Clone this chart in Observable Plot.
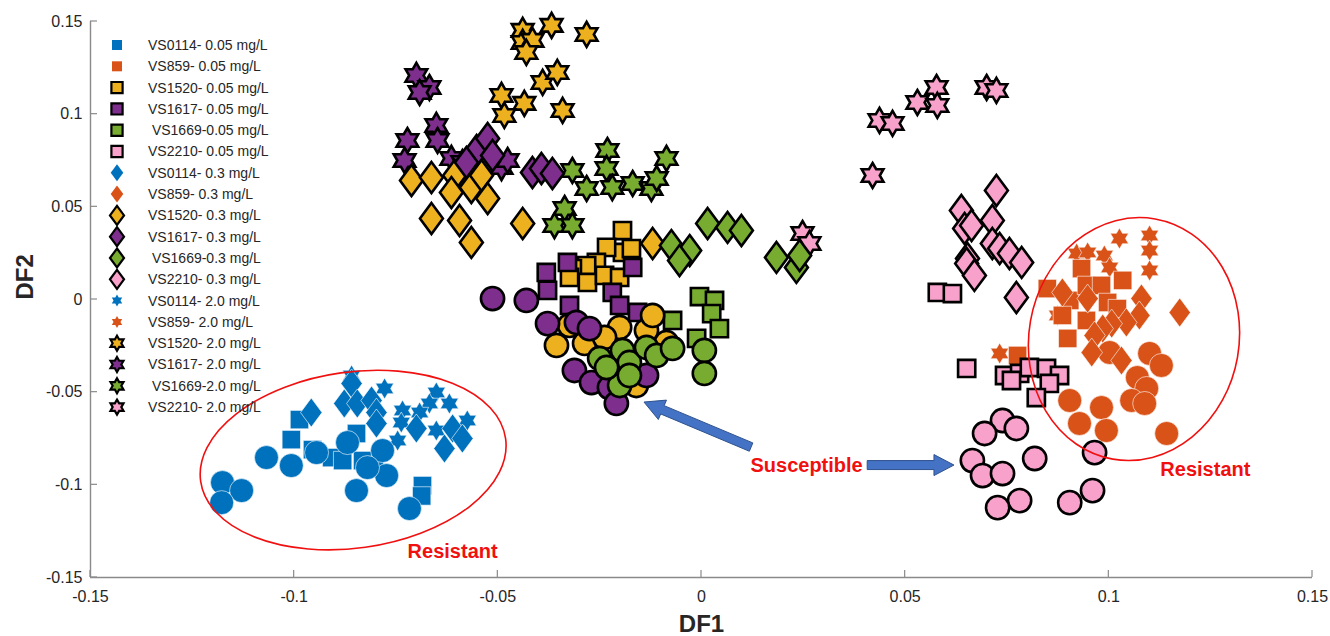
<!DOCTYPE html>
<html><head><meta charset="utf-8">
<script src="https://cdn.jsdelivr.net/npm/d3@7"></script>
<script src="https://cdn.jsdelivr.net/npm/@observablehq/plot@0.6"></script>
<style>
body{margin:0;background:#fff;}
#chart{position:relative;width:1330px;height:636px;}
</style></head><body><div id="chart"></div>
<script>
// ---------- categories / labels ----------
const strains = ["VS0114","VS859","VS1520","VS1617","VS1669","VS2210"];
const strainColors = ["#0072BD","#D95319","#EDB120","#7E2F8E","#77AC30","#F7A1CB"];
const edged = [false,false,true,true,true,true];
const legendLabels = [
  "VS0114- 0.05 mg/L","VS859- 0.05 mg/L","VS1520- 0.05 mg/L","VS1617- 0.05 mg/L"," VS1669-0.05 mg/L","VS2210- 0.05 mg/L",
  "VS0114- 0.3 mg/L","VS859- 0.3 mg/L","VS1520- 0.3 mg/L","VS1617- 0.3 mg/L"," VS1669-0.3 mg/L","VS2210- 0.3 mg/L",
  "VS0114- 2.0 mg/L","VS859- 2.0 mg/L","VS1520- 2.0 mg/L","VS1617- 2.0 mg/L"," VS1669-2.0 mg/L","VS2210- 2.0 mg/L"
];
const xTicks = [-0.15,-0.1,-0.05,0,0.05,0.1,0.15];
const xTickLabels = ["-0.15","-0.1","-0.05","0","0.05","0.1","0.15"];
const yTicks = [-0.15,-0.1,-0.05,0,0.05,0.1,0.15];
const yTickLabels = ["-0.15","-0.1","-0.05","0","0.05","0.1","0.15"];

// ---------- data: [DF1, DF2] ----------
const vs0114_circle = [[-0.1176,-0.0988],[-0.1129,-0.1031],[-0.1178,-0.1096],[-0.1068,-0.0853],[-0.1007,-0.0896],[-0.0945,-0.0826],[-0.0869,-0.0772],[-0.0847,-0.1031],[-0.0783,-0.0815],[-0.0773,-0.0950],[-0.0820,-0.0907],[-0.0717,-0.1128]];
const vs0114_square = [[-0.0987,-0.0648],[-0.1007,-0.0756],[-0.0955,-0.0810],[-0.0908,-0.0853],[-0.0881,-0.0869],[-0.0847,-0.0723],[-0.0832,-0.0869],[-0.0803,-0.0896],[-0.0685,-0.1004],[-0.0687,-0.1060]];
const vs0114_diamond = [[-0.0958,-0.0610],[-0.0859,-0.0453],[-0.0877,-0.0561],[-0.0845,-0.0561],[-0.0810,-0.0545],[-0.0798,-0.0610],[-0.0798,-0.0669],[-0.0700,-0.0696],[-0.0611,-0.0696],[-0.0631,-0.0804],[-0.0587,-0.0750]];
const vs0114_star = [[-0.0859,-0.0410],[-0.0778,-0.0480],[-0.0651,-0.0502],[-0.0668,-0.0561],[-0.0619,-0.0561],[-0.0734,-0.0599],[-0.0692,-0.0610],[-0.0575,-0.0653],[-0.0737,-0.0664],[-0.0651,-0.0707],[-0.0746,-0.0761]];

const vs859_square = [[0.0933,0.0167],[0.0849,0.0059],[0.0904,-0.0005],[0.0945,0.0076],[0.0982,0.0076],[0.1034,0.0103],[0.0997,-0.0016],[0.1021,-0.0049],[0.0886,-0.0086],[0.0945,-0.0113],[0.0899,-0.0210],[0.0776,-0.0302]];
const vs859_diamond = [[0.0886,0.0038],[0.0948,0.0005],[0.1080,0.0005],[0.1174,-0.0070],[0.1075,-0.0086],[0.1043,-0.0124],[0.1007,-0.0130],[0.0985,-0.0157],[0.0965,-0.0194],[0.0958,-0.0286],[0.1031,-0.0329]];
const vs859_star = [[0.1026,0.0329],[0.1100,0.0345],[0.1100,0.0264],[0.1100,0.0157],[0.0921,0.0248],[0.0948,0.0254],[0.0989,0.0237],[0.1002,0.0173],[0.0874,-0.0086],[0.0732,-0.0291]];
const vs859_circle = [[0.1002,-0.0286],[0.1100,-0.0291],[0.1129,-0.0356],[0.1070,-0.0421],[0.1093,-0.0480],[0.1056,-0.0545],[0.1088,-0.0561],[0.0904,-0.0545],[0.0982,-0.0583],[0.0928,-0.0669],[0.0994,-0.0707],[0.1142,-0.0723]];

const vs1520_square = [[-0.0194,0.0372],[-0.0194,0.0254],[-0.0233,0.0281],[-0.0172,0.0275],[-0.0258,0.0200],[-0.0282,0.0183],[-0.0317,0.0167],[-0.0324,0.0119],[-0.0280,0.0092],[-0.0238,0.0130],[-0.0201,0.0119]];
const vs1520_diamond = [[-0.0712,0.0642],[-0.0663,0.0658],[-0.0606,0.0669],[-0.0614,0.0577],[-0.0565,0.0604],[-0.0540,0.0669],[-0.0525,0.0545],[-0.0663,0.0437],[-0.0594,0.0426],[-0.0565,0.0308],[-0.0439,0.0410],[-0.0120,0.0302]];
const vs1520_star = [[-0.0439,0.1452],[-0.0368,0.1479],[-0.0282,0.1430],[-0.0439,0.1387],[-0.0415,0.1398],[-0.0430,0.1333],[-0.0390,0.1171],[-0.0354,0.1225],[-0.0491,0.1101],[-0.0435,0.1058],[-0.0484,0.0993],[-0.0341,0.1020]];
const vs1520_circle = [[-0.0356,-0.0248],[-0.0287,-0.0237],[-0.0324,-0.0140],[-0.0201,-0.0151],[-0.0135,-0.0167],[-0.0238,-0.0205],[-0.0160,-0.0464],[-0.0120,-0.0086],[-0.0086,-0.0232]];

const vs1617_square = [[-0.0381,0.0146],[-0.0378,0.0049],[-0.0329,0.0200],[-0.0324,-0.0032],[-0.0219,0.0038],[-0.0201,-0.0032],[-0.0169,0.0173],[-0.0157,-0.0070]];
const vs1617_diamond = [[-0.0552,0.0804],[-0.0525,0.0869],[-0.0513,0.0777],[-0.0577,0.0739],[-0.0415,0.0685],[-0.0393,0.0707],[-0.0366,0.0680]];
const vs1617_star = [[-0.0700,0.1209],[-0.0668,0.1144],[-0.0692,0.1117],[-0.0722,0.0858],[-0.0651,0.0939],[-0.0648,0.0858],[-0.0729,0.0750],[-0.0614,0.0761],[-0.0587,0.0739],[-0.0491,0.0712],[-0.0476,0.0750]];
const vs1617_circle = [[-0.0513,0.0005],[-0.0430,-0.0005],[-0.0378,-0.0130],[-0.0307,-0.0124],[-0.0275,-0.0157],[-0.0312,-0.0383],[-0.0270,-0.0448],[-0.0226,-0.0475],[-0.0209,-0.0561],[-0.0135,-0.0410]];

const vs1669_square = [[-0.0005,0.0016],[0.0032,-0.0005],[0.0025,-0.0076],[-0.0071,-0.0113],[0.0044,-0.0157],[-0.0012,-0.0210]];
const vs1669_diamond = [[-0.0074,0.0291],[-0.0029,0.0264],[-0.0054,0.0210],[0.0015,0.0410],[0.0064,0.0389],[0.0098,0.0372],[0.0184,0.0227],[0.0233,0.0173],[0.0241,0.0237]];
const vs1669_star = [[-0.0317,0.0696],[-0.0231,0.0804],[-0.0233,0.0707],[-0.0282,0.0599],[-0.0219,0.0604],[-0.0169,0.0626],[-0.0123,0.0599],[-0.0110,0.0653],[-0.0086,0.0761],[-0.0336,0.0491],[-0.0361,0.0399],[-0.0317,0.0399]];
const vs1669_circle = [[-0.0250,-0.0318],[-0.0194,-0.0275],[-0.0177,-0.0340],[-0.0201,-0.0464],[-0.0135,-0.0259],[-0.0110,-0.0302],[-0.0071,-0.0264],[0.0007,-0.0275],[0.0007,-0.0399],[-0.0177,-0.0410],[-0.0233,-0.0367]];

const vs2210_square = [[0.0579,0.0038],[0.0616,0.0032],[0.0651,-0.0372],[0.0744,-0.0410],[0.0781,-0.0399],[0.0805,-0.0367],[0.0847,-0.0372],[0.0879,-0.0410],[0.0854,-0.0453],[0.0822,-0.0529],[0.0761,-0.0437]];
const vs2210_diamond = [[0.0724,0.0588],[0.0638,0.0480],[0.0714,0.0426],[0.0646,0.0383],[0.0663,0.0399],[0.0714,0.0302],[0.0732,0.0275],[0.0756,0.0248],[0.0653,0.0221],[0.0651,0.0194],[0.0670,0.0130],[0.0786,0.0200],[0.0773,0.0011]];
const vs2210_star = [[0.0437,0.0966],[0.0469,0.0950],[0.0530,0.1063],[0.0577,0.1144],[0.0579,0.1047],[0.0700,0.1144],[0.0724,0.1128],[0.0420,0.0669],[0.0248,0.0356],[0.0265,0.0302]];
const vs2210_circle = [[0.0739,-0.0653],[0.0773,-0.0696],[0.0695,-0.0723],[0.0665,-0.0869],[0.0690,-0.0950],[0.0739,-0.0939],[0.0818,-0.0858],[0.0781,-0.1085],[0.0727,-0.1123],[0.0904,-0.1096],[0.0960,-0.1031],[0.0965,-0.0826]];

// ---------- annotations ----------
const ellipses = [
  {cx:-0.0854, cy:-0.0869, rx:0.0378, ry:0.0475, angle:-8},
  {cx:0.1063, cy:-0.0216, rx:0.0258, ry:0.0658, angle:10}
];
const arrows = [
  {x1:0.0123, y1:-0.0799, x2:-0.0140, y2:-0.0556},
  {x1:0.0408, y1:-0.0896, x2:0.0621, y2:-0.0896}
];
const notes = [
  {x:-0.0611, y:-0.1360, text:"Resistant"},
  {x:0.0258, y:-0.0896, text:"Susceptible"},
  {x:0.1237, y:-0.0917, text:"Resistant"}
];

// ---------- symbols ----------
const FONT = "Liberation Sans, Arial, Helvetica, sans-serif";
const symSquare = {draw(ctx, size){const r=Math.sqrt(size/Math.PI); ctx.moveTo(-r,-r); ctx.lineTo(r,-r); ctx.lineTo(r,r); ctx.lineTo(-r,r); ctx.closePath();}};
const symDiamond = {draw(ctx, size){const r=Math.sqrt(size/Math.PI); const w=r*0.74; ctx.moveTo(0,-r); ctx.lineTo(w,0); ctx.lineTo(0,r); ctx.lineTo(-w,0); ctx.closePath();}};
const symHex = {draw(ctx, size){const r=Math.sqrt(size/Math.PI); const ri=r/Math.sqrt(3);
  for(let i=0;i<12;i++){const a=-Math.PI/2+i*Math.PI/6; const rr=(i%2)?ri:r; const px=rr*Math.cos(a), py=rr*Math.sin(a); if(i) ctx.lineTo(px,py); else ctx.moveTo(px,py);} ctx.closePath();}};

const shapeSpec = {
  square:  {sym: symSquare, rEdge: 8.6, rPlain: 9.2},
  diamond: {sym: symDiamond, rEdge: 15.5, rPlain: 14.5},
  star:    {sym: symHex, rEdge: 12.5, rPlain: 10.5},
  circle:  {sym: "circle", rEdge: 11.6, rPlain: 12}
};
function dots(data, shape, si){
  const sp = shapeSpec[shape];
  return Plot.dot(data, {
    x: d => d[0], y: d => d[1], symbol: sp.sym,
    r: edged[si] ? sp.rEdge : sp.rPlain,
    fill: strainColors[si],
    stroke: edged[si] ? "#000" : "#fff",
    strokeWidth: edged[si] ? 2.6 : 0.7,
    strokeOpacity: edged[si] ? 1 : 0.85
  });
}
const series = {
  star:    [vs0114_star, vs859_star, vs1520_star, vs1617_star, vs1669_star, vs2210_star],
  square:  [vs0114_square, vs859_square, vs1520_square, vs1617_square, vs1669_square, vs2210_square],
  circle:  [vs0114_circle, vs859_circle, vs1520_circle, vs1617_circle, vs1669_circle, vs2210_circle],
  diamond: [vs0114_diamond, vs859_diamond, vs1520_diamond, vs1617_diamond, vs1669_diamond, vs2210_diamond]
};
const dotMarks = [];
for (const shape of ["star","square","circle","diamond"]) series[shape].forEach((d,i)=>dotMarks.push(dots(d, shape, i)));

const AXIS = "#8a8a8a";

function annotate(index, scales){
  const g = d3.create("svg:g");
  for (const e of ellipses){
    const cx = scales.x(e.cx), cy = scales.y(e.cy);
    const rx = scales.x(e.cx + e.rx) - cx, ry = cy - scales.y(e.cy + e.ry);
    g.append("ellipse").attr("cx",cx).attr("cy",cy).attr("rx",rx).attr("ry",ry)
      .attr("transform",`rotate(${e.angle} ${cx} ${cy})`)
      .attr("fill","none").attr("stroke","#F01010").attr("stroke-width",1.6);
  }
  for (const a of arrows){
    const x1=scales.x(a.x1), y1=scales.y(a.y1), x2=scales.x(a.x2), y2=scales.y(a.y2);
    const L=Math.hypot(x2-x1,y2-y1), ux=(x2-x1)/L, uy=(y2-y1)/L, nx=-uy, ny=ux;
    const w=4.5, hw=10.5, hl=20;
    const bx=x2-ux*hl, by=y2-uy*hl;
    const pts=[[x1+nx*w,y1+ny*w],[bx+nx*w,by+ny*w],[bx+nx*hw,by+ny*hw],[x2,y2],[bx-nx*hw,by-ny*hw],[bx-nx*w,by-ny*w],[x1-nx*w,y1-ny*w]];
    g.append("polygon").attr("points",pts.map(p=>p.join(",")).join(" "))
      .attr("fill","#4472C4").attr("stroke","#2F528F").attr("stroke-width",1);
  }
  return g.node();
}

// inward tick marks on the left and bottom axes
function axisTicks(index, scales){
  const g = d3.create("svg:g").attr("stroke", AXIS).attr("stroke-width", 1.2);
  const yb = scales.y(-0.15), xl = scales.x(-0.15);
  for (const t of xTicks){ const px = scales.x(t); g.append("line").attr("x1",px).attr("x2",px).attr("y1",yb).attr("y2",yb-7); }
  for (const t of yTicks){ const py = scales.y(t); g.append("line").attr("x1",xl).attr("x2",xl+7).attr("y1",py).attr("y2",py); }
  return g.node();
}

const svg = Plot.plot({
  width: 1330, height: 636,
  marginLeft: 90, marginRight: 18, marginTop: 21, marginBottom: 59,
  style: {fontFamily: FONT, background: "#fff", overflow: "visible"},
  x: {domain: [-0.15, 0.15]},
  y: {domain: [-0.15, 0.15]},
  marks: [
    ...dotMarks,
    annotate,
    Plot.text(notes, {x:"x", y:"y", text:"text", fill:"#F01010", fontWeight:"bold", fontSize:20}),
    Plot.ruleX([-0.15], {stroke: AXIS, strokeWidth: 1.4}),
    Plot.ruleY([-0.15], {stroke: AXIS, strokeWidth: 1.4}),
    axisTicks,
    Plot.axisX(xTicks, {tickSize: 0, tickPadding: 13, fontSize: 16, fill: "#262626", label: null, tickFormat: d => xTickLabels[xTicks.indexOf(d)]}),
    Plot.axisY(yTicks, {tickSize: 0, tickPadding: 8, fontSize: 16, fill: "#262626", label: null, tickFormat: d => yTickLabels[yTicks.indexOf(d)]}),
    Plot.text(["DF1"], {frameAnchor: "bottom", dy: 54, fontSize: 24, fontWeight: "bold", fill: "#262626"}),
    Plot.text(["DF2"], {frameAnchor: "left", dx: -65, rotate: -90, fontSize: 24, fontWeight: "bold", fill: "#262626"})
  ]
});

// legend inside the axes (upper left)
const lg = d3.select(svg).append("g").attr("font-family", FONT).attr("font-size", 14).attr("text-anchor", "start");
legendLabels.forEach((lab, i) => {
  const c = Math.floor(i / 6), s = i % 6;
  const yy = 45 + i * 21.3;
  const sym = [symSquare, symDiamond, symHex][c];
  const rr = edged[s] ? [5.6, 9.5, 7.5][c] : [5, 8.5, 6][c];
  lg.append("path").attr("transform", `translate(117,${yy})`)
    .attr("d", d3.symbol(sym, rr * rr * Math.PI)())
    .attr("fill", strainColors[s]).attr("stroke", edged[s] ? "#000" : "none").attr("stroke-width", 2.2);
  lg.append("text").attr("x", 148).attr("y", yy).attr("dy", "0.35em").attr("fill", "#262626")
    .attr("text-anchor", "start").attr("xml:space", "preserve").style("white-space", "pre").text(lab);
});

document.getElementById("chart").appendChild(svg);
</script>
</body></html>
